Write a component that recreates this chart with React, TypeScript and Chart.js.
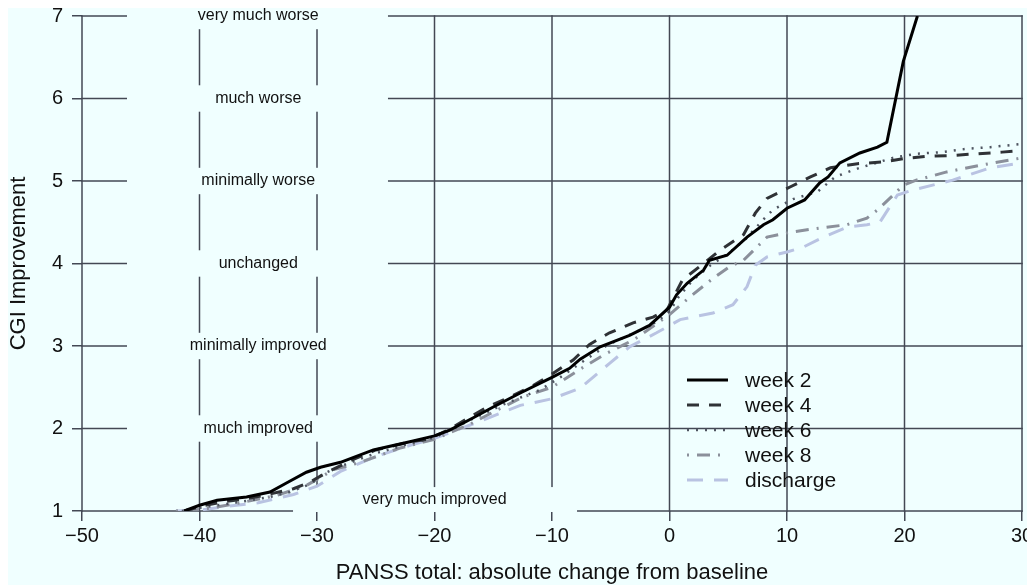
import React, { useEffect, useRef } from "react";
import { Chart, registerables } from "chart.js";

Chart.register(...registerables);

const xTicks = [-50, -40, -30, -20, -10, 0, 10, 20, 30];
const yTicks = [1, 2, 3, 4, 5, 6, 7];
const ratingLabels = [
  "very much improved",
  "much improved",
  "minimally improved",
  "unchanged",
  "minimally worse",
  "much worse",
  "very much worse",
];
const ratingValues = [1, 2, 3, 4, 5, 6, 7];
const seriesNames = ["week 2", "week 4", "week 6", "week 8", "discharge"];

const week2X = [-41.3, -40, -38.5, -36, -34, -32.6, -30.9, -29.7, -28, -25.2, -22.1, -20, -18.7, -16.7, -15, -12.7, -11, -10, -8.5, -7.6, -5.9, -3.4, -1.7, 0, 0.6, 1.5, 2.9, 3.4, 4.9, 6.6, 8.0, 8.8, 10, 11.5, 12.8, 13.5, 14.5, 16.2, 17.7, 18.5, 19.9, 21.1];
const week2Y = [1.0, 1.07, 1.13, 1.17, 1.23, 1.34, 1.47, 1.53, 1.59, 1.74, 1.84, 1.91, 1.98, 2.13, 2.26, 2.43, 2.55, 2.62, 2.73, 2.84, 2.99, 3.13, 3.25, 3.47, 3.62, 3.76, 3.92, 4.04, 4.10, 4.32, 4.47, 4.53, 4.67, 4.77, 4.98, 5.05, 5.22, 5.34, 5.41, 5.47, 6.45, 7.0];

const week4X = [-41.3, -39.5, -38, -36, -34.5, -32, -30.6, -29, -27, -25, -22, -20.6, -19, -17.2, -15.5, -13.6, -11.6, -9.9, -8.2, -6.8, -5.1, -3.1, -1.4, -0.2, 1.1, 2.9, 4.3, 6.3, 7.3, 8.3, 10.3, 12.0, 13.7, 16.0, 18.1, 19.9, 22, 24.1, 26.2, 28.3, 30];
const week4Y = [1.0, 1.07, 1.11, 1.15, 1.19, 1.27, 1.35, 1.48, 1.62, 1.74, 1.84, 1.87, 1.97, 2.12, 2.26, 2.38, 2.52, 2.67, 2.83, 3.02, 3.16, 3.28, 3.35, 3.44, 3.80, 4.0, 4.16, 4.35, 4.61, 4.79, 4.93, 5.05, 5.16, 5.21, 5.23, 5.27, 5.30, 5.31, 5.33, 5.35, 5.37];

const week6X = [-41.5, -39.5, -37, -34, -32.3, -30.5, -29.5, -27.5, -25, -22, -20, -17, -14, -11, -9.3, -7.5, -5.3, -3, -1, 0, 0.8, 2, 3.5, 5, 6.5, 8.1, 8.8, 10.5, 12.6, 14.1, 15.2, 16.2, 19, 21, 23.2, 25.3, 27.3, 30];
const week6Y = [1.0, 1.05, 1.1, 1.17, 1.23, 1.33, 1.45, 1.57, 1.7, 1.82, 1.89, 2.1, 2.3, 2.47, 2.62, 2.8, 3.01, 3.16, 3.3, 3.42, 3.6, 3.8, 3.98, 4.12, 4.3, 4.55, 4.65, 4.78, 4.87, 5.05, 5.11, 5.16, 5.28, 5.33, 5.35, 5.39, 5.41, 5.45];

const week8X = [-42, -40, -38.9, -36.5, -33.4, -30.9, -28.6, -26.3, -23, -20, -17, -15, -12.5, -10, -7.6, -5.5, -3, -1, 0, 1.7, 3.7, 5.1, 6.3, 8.3, 10.3, 12.8, 15.1, 16.8, 17.7, 18.9, 19.9, 21, 23.6, 26.4, 30];
const week8Y = [1.0, 1.02, 1.04, 1.1, 1.19, 1.31, 1.5, 1.59, 1.76, 1.87, 2.05, 2.2, 2.38, 2.5, 2.72, 2.9, 3.08, 3.28, 3.38, 3.59, 3.82, 3.96, 4.04, 4.32, 4.38, 4.43, 4.47, 4.55, 4.65, 4.81, 4.95, 5.01, 5.11, 5.19, 5.28];

const dischargeX = [-42, -40, -38, -35, -32, -30, -28, -25, -22, -20, -15.9, -12.7, -10, -7.6, -5.1, -3.4, -1.1, 0.9, 3.7, 5.4, 6.6, 7.3, 8.3, 10, 11.4, 13.1, 15.1, 16.8, 17.9, 19.4, 20.7, 24.1, 27.3, 30];
const dischargeY = [1.0, 1.01, 1.05, 1.1, 1.2, 1.3, 1.48, 1.66, 1.8, 1.88, 2.1, 2.28, 2.36, 2.49, 2.79, 2.99, 3.16, 3.32, 3.40, 3.5, 3.72, 3.98, 4.08, 4.14, 4.2, 4.32, 4.44, 4.47, 4.5, 4.83, 4.89, 5.01, 5.16, 5.22];

const BG = "#F0FFFF";
const GRID = "#434854";
const TEXT = "#111111";
const FONT = "'Liberation Sans', Arial, sans-serif";

const seriesStyles = [
  { color: "#000000", width: 3, dash: [] as number[] },
  { color: "#2f3236", width: 3, dash: [12, 10] },
  { color: "#4f5561", width: 2.5, dash: [2, 7] },
  { color: "#8b909b", width: 3, dash: [2, 8, 13, 8] },
  { color: "#b9c3e2", width: 3, dash: [16, 11] },
];

const zip = (xs: number[], ys: number[]) => xs.map((x, i) => ({ x, y: ys[i] }));
const seriesData = [
  zip(week2X, week2Y),
  zip(week4X, week4Y),
  zip(week6X, week6Y),
  zip(week8X, week8Y),
  zip(dischargeX, dischargeY),
];

const fmt = (v: number) => (v < 0 ? "\u2212" + Math.abs(v) : String(v));

const bgPlugin = {
  id: "bgFill",
  beforeDraw(chart: any) {
    const ctx = chart.ctx;
    ctx.save();
    ctx.fillStyle = BG;
    ctx.fillRect(0, 0, chart.width, chart.height);
    ctx.restore();
  },
};

const gridPlugin = {
  id: "customGrid",
  beforeDatasetsDraw(chart: any) {
    const { ctx } = chart;
    const xs = chart.scales.x;
    const ys = chart.scales.y;
    const px = (v: number) => xs.getPixelForValue(v);
    const py = (v: number) => ys.getPixelForValue(v);
    ctx.save();
    ctx.strokeStyle = GRID;
    ctx.lineWidth = 1.5;
    for (const v of yTicks) {
      ctx.beginPath();
      ctx.moveTo(px(-50) - 0.75, py(v));
      ctx.lineTo(px(30) + 0.75, py(v));
      ctx.stroke();
    }
    for (const v of xTicks) {
      ctx.beginPath();
      ctx.moveTo(px(v), py(7) - 0.75);
      ctx.lineTo(px(v), py(1) + 0.75);
      ctx.stroke();
    }
    // label boxes cover the grid
    ctx.fillStyle = BG;
    const bx0 = px(-46.17);
    const bx1 = px(-23.96);
    for (let i = 1; i < ratingValues.length; i++) {
      const v = ratingValues[i];
      const top = Math.max(py(v + 0.16), py(7) - 2);
      ctx.fillRect(bx0, top, bx1 - bx0, py(v - 0.16) - top);
    }
    const ix0 = px(-32.04);
    const ix1 = px(-7.87);
    ctx.fillRect(ix0, py(1.29), ix1 - ix0, py(1) + 1 - py(1.29));
    // texts
    ctx.fillStyle = TEXT;
    ctx.font = `16px ${FONT}`;
    ctx.textAlign = "center";
    ctx.textBaseline = "middle";
    for (let i = 1; i < ratingValues.length; i++) {
      ctx.fillText(ratingLabels[i], px(-35), py(ratingValues[i]));
    }
    ctx.fillText(ratingLabels[0], px(-20), py(1.135));
    ctx.restore();
  },
};

const legendPlugin = {
  id: "customLegend",
  afterDatasetsDraw(chart: any) {
    const { ctx } = chart;
    ctx.save();
    const x0 = 679;
    const x1 = 720;
    const tx = 737;
    const y0 = 372;
    const step = 25;
    seriesNames.forEach((name, i) => {
      const st = seriesStyles[i];
      const y = y0 + i * step;
      ctx.strokeStyle = st.color;
      ctx.lineWidth = st.width;
      ctx.setLineDash(st.dash);
      ctx.lineCap = "butt";
      ctx.beginPath();
      ctx.moveTo(x0, y);
      ctx.lineTo(x1, y);
      ctx.stroke();
      ctx.setLineDash([]);
      ctx.fillStyle = TEXT;
      ctx.font = `21px ${FONT}`;
      ctx.textAlign = "left";
      ctx.textBaseline = "middle";
      ctx.fillText(name, tx, y + 1);
    });
    ctx.restore();
  },
};

export default function App() {
  const canvasRef = useRef<HTMLCanvasElement | null>(null);

  useEffect(() => {
    const canvas = canvasRef.current;
    if (!canvas) return;
    const chart = new Chart(canvas, {
      type: "scatter",
      data: {
        datasets: seriesNames.map((name, i) => ({
          label: name,
          data: seriesData[i],
          showLine: true,
          borderColor: seriesStyles[i].color,
          backgroundColor: seriesStyles[i].color,
          borderWidth: seriesStyles[i].width,
          borderDash: seriesStyles[i].dash,
          pointRadius: 0,
          pointHoverRadius: 0,
          tension: 0,
          fill: false,
        })),
      },
      options: {
        responsive: false,
        animation: false,
        events: [],
        layout: { padding: { top: 8, right: 10, left: 0, bottom: 0 } },
        plugins: {
          legend: { display: false },
          tooltip: { enabled: false },
        },
        scales: {
          x: {
            type: "linear",
            min: -50,
            max: 30,
            afterBuildTicks: (s: any) => {
              s.ticks = xTicks.map((v) => ({ value: v }));
            },
            ticks: {
              callback: (v: any) => fmt(Number(v)),
              font: { family: FONT, size: 20 },
              color: TEXT,
              padding: 3,
              maxRotation: 0,
              autoSkip: false,
            },
            grid: {
              display: true,
              drawOnChartArea: false,
              drawTicks: true,
              tickLength: 10,
              color: GRID,
              lineWidth: 1.5,
            },
            border: { display: false },
            title: {
              display: true,
              text: "PANSS total: absolute change from baseline",
              font: { family: FONT, size: 22, lineHeight: 1 },
              color: TEXT,
              padding: { top: 0, bottom: 1 },
            },
            afterFit: (s: any) => {
              s.height = 74;
              s.paddingLeft = 0;
              s.paddingRight = 0;
            },
          },
          y: {
            type: "linear",
            min: 1,
            max: 7,
            afterBuildTicks: (s: any) => {
              s.ticks = yTicks.map((v) => ({ value: v }));
            },
            ticks: {
              font: { family: FONT, size: 20 },
              color: TEXT,
              padding: 9,
              autoSkip: false,
            },
            grid: {
              display: true,
              drawOnChartArea: false,
              drawTicks: true,
              tickLength: 10,
              color: GRID,
              lineWidth: 1.5,
            },
            border: { display: false },
            title: {
              display: true,
              text: "CGI Improvement",
              font: { family: FONT, size: 22, lineHeight: 1 },
              color: TEXT,
              padding: { top: 0, bottom: 0 },
            },
            afterFit: (s: any) => {
              s.width = 74;
              s.paddingTop = 0;
              s.paddingBottom = 0;
            },
          },
        },
      },
      plugins: [bgPlugin, gridPlugin, legendPlugin],
    });
    return () => chart.destroy();
  }, []);

  return (
    <div style={{ width: 1024, height: 577 }}>
      <canvas ref={canvasRef} width={1024} height={577} style={{ display: "block" }} />
    </div>
  );
}
